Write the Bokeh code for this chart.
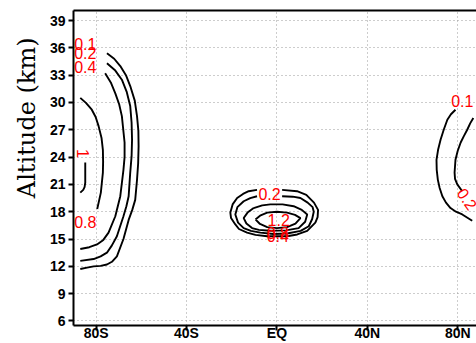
from bokeh.core.properties import value
from bokeh.embed import file_html
from bokeh.models import ColumnDataSource, FixedTicker, LinearAxis, Range1d, Title
from bokeh.plotting import figure
from bokeh.resources import INLINE

# Axis ticks
lat_ticks = [-80, -40, 0, 40, 80]
lat_tick_labels = ["80S", "40S", "EQ", "40N", "80N"]
alt_ticks = [6, 9, 12, 15, 18, 21, 24, 27, 30, 33, 36, 39]

# Southern high-latitude contours (latitude, altitude km)
sh_010_lat = [-75.2, -72.0, -69.3, -66.8, -64.9, -62.9, -61.9, -61.3, -61.2, -61.4, -61.9,
              -62.7, -64.0, -65.6, -67.9, -70.8, -73.0, -75.2, -78.0, -81.1, -84.0, -87.0]
sh_010_alt = [35.4, 34.8, 34.0, 33.0, 31.8, 30.2, 28.5, 26.9, 25.2, 23.3, 21.5,
              19.3, 18.2, 17.1, 15.0, 13.1, 12.5, 12.2, 12.05, 12.0, 11.85, 11.7]
sh_020_lat = [-75.2, -71.5, -68.6, -66.5, -64.9, -64.3, -64.1, -64.3, -64.9, -65.6, -66.6,
              -67.9, -70.8, -73.0, -75.2, -78.0, -81.1, -87.0]
sh_020_alt = [34.3, 33.5, 32.5, 31.2, 29.6, 27.8, 25.9, 24.1, 22.3, 19.7, 18.6,
              17.5, 15.3, 14.3, 13.5, 13.1, 12.8, 12.6]
sh_040_lat = [-76.0, -73.5, -71.5, -69.8, -68.6, -67.4, -67.4, -67.9, -69.3, -71.5, -74.5,
              -76.8, -79.6, -83.0, -87.0]
sh_040_alt = [33.2, 32.2, 31.0, 29.8, 28.5, 25.6, 24.0, 22.6, 19.7, 17.5, 15.7,
              14.9, 14.4, 14.1, 13.9]
sh_080_lat = [-87.0, -84.5, -81.9, -80.2, -78.9, -77.6, -77.0, -76.9, -77.0, -77.9, -79.5]
sh_080_alt = [30.5, 29.95, 29.2, 28.4, 27.4, 26.1, 24.8, 23.5, 22.3, 20.1, 18.3]
sh_100_lat = [-84.8, -84.8, -85.1, -85.7, -87.0]
sh_100_alt = [23.4, 21.2, 20.7, 20.4, 20.1]

# Equatorial tropopause contours
eq_020_lat = [2.3, 8.9, 13.0, 16.4, 18.2, 18.0, 17.0, 13.4, 9.0, 4.5, -4.3, -9.5, -13.2,
              -16.8, -18.4, -20.3, -20.6, -19.6, -17.6, -15.0, -12.5, -8.8]
eq_020_alt = [20.4, 20.25, 19.85, 19.0, 18.2, 17.4, 16.8, 15.9, 15.5, 15.3, 15.3, 15.45, 15.7,
              16.1, 16.6, 17.3, 17.9, 18.8, 19.5, 19.95, 20.25, 20.4]
eq_040_lat = [2.3, 7.0, 10.4, 13.6, 15.8, 16.3, 15.6, 14.1, 10.5, 4.5, -1.5, -7.3, -11.5,
              -14.7, -17.2, -18.4, -17.5, -14.7, -11.8, -8.8]
eq_040_alt = [19.7, 19.65, 19.5, 19.0, 18.5, 18.0, 17.2, 16.4, 15.9, 15.6, 15.55, 15.7, 15.9,
              16.2, 16.8, 17.7, 18.5, 19.15, 19.5, 19.7]
eq_080_lat = [-10.3, -6.5, -2.9, 2.5, 7.4, 11.0, 13.4, 12.5, 9.6, 4.0, -2.9, -8.0, -11.0,
              -13.5, -14.7, -13.0, -10.3]
eq_080_alt = [18.4, 18.7, 18.8, 18.8, 18.6, 18.2, 17.7, 16.9, 16.2, 15.95, 15.9, 16.0, 16.2,
              16.7, 17.3, 17.9, 18.4]
eq_120_lat = [-9.5, -7.2, -4.3, 0.0, 4.5, 8.0, 10.4, 8.2, 4.5, 0.0, -4.3, -7.5, -9.5]
eq_120_alt = [17.15, 17.6, 17.9, 18.0, 17.9, 17.65, 17.3, 16.7, 16.3, 16.2, 16.3, 16.65, 17.15]

# Northern high-latitude contours
nh_010_lat = [79.0, 77.0, 75.4, 73.8, 72.4, 71.3, 70.6, 70.7, 71.2, 72.0, 73.2, 74.8, 76.8,
              79.2, 82.0, 86.4]
nh_010_alt = [29.2, 28.7, 28.1, 27.0, 25.9, 24.8, 23.7, 22.6, 21.5, 20.6, 19.7, 19.0, 18.4,
              18.0, 17.7, 17.0]
nh_020_lat = [86.9, 85.5, 84.2, 82.7, 81.3, 80.0, 79.0, 78.6, 78.8, 79.8, 82.0]
nh_020_alt = [28.3, 27.7, 27.0, 26.3, 25.6, 24.7, 23.7, 22.3, 21.6, 21.0, 20.25]

# Contour labels
label_text = ["0.1", "0.2", "0.4", "1", "0.8", "0.2", "1.2", "0.8", "0.4", "0.1", "0.2"]
label_lat = [-84.8, -84.8, -84.8, -85.6, -84.8, -3.25, 0.8, 0.4, 0.4, 82.0, 84.2]
label_alt = [36.4, 35.4, 33.85, 24.4, 16.9, 19.97, 17.04, 15.65, 15.35, 30.2, 19.4]
label_angle = [0, 0, 0, -90, 0, 0, 0, 0, 0, 0, -55]

contour_lats = [sh_010_lat, sh_020_lat, sh_040_lat, sh_080_lat, sh_100_lat,
                eq_020_lat, eq_040_lat, eq_080_lat, eq_120_lat,
                nh_010_lat, nh_020_lat]
contour_alts = [sh_010_alt, sh_020_alt, sh_040_alt, sh_080_alt, sh_100_alt,
                eq_020_alt, eq_040_alt, eq_080_alt, eq_120_alt,
                nh_010_alt, nh_020_alt]

p = figure(width=476, height=343,
           x_range=Range1d(-90, 88.3), y_range=Range1d(5.5, 40.1),
           output_backend="svg", toolbar_location=None,
           min_border_left=73, min_border_right=0, min_border_top=10, min_border_bottom=15)
p.outline_line_color = None
p.background_fill_color = "white"

tick_font = "Liberation Sans"
for ax in (p.xaxis[0], p.yaxis[0]):
    ax.axis_line_width = 2
    ax.axis_line_color = "black"
    ax.major_tick_line_width = 2
    ax.major_tick_in = 0
    ax.major_tick_out = 5
    ax.minor_tick_line_color = None
    ax.major_label_text_font = tick_font
    ax.major_label_text_font_style = "bold"
    ax.major_label_text_font_size = "14px"
    ax.major_label_text_color = "black"

p.xaxis.ticker = FixedTicker(ticks=lat_ticks)
p.xaxis.major_label_overrides = {t: s for t, s in zip(lat_ticks, lat_tick_labels)}
p.xaxis.major_label_standoff = -6
p.yaxis.ticker = FixedTicker(ticks=alt_ticks)
p.yaxis.major_label_standoff = 3

top = LinearAxis(ticker=FixedTicker(ticks=[]), axis_line_width=2,
                 major_tick_in=0, major_tick_out=0, minor_tick_in=0, minor_tick_out=0,
                 major_label_text_font_size="0px", major_label_standoff=0)
p.add_layout(top, "above")

# Vertical axis title, placed in the left border
ytitle = Title(text="Altitude (km)", align="right", vertical_align="top", offset=27, standoff=8,
               text_font="DejaVu Serif", text_font_size="24px", text_font_style="normal",
               text_color="black")
p.add_layout(ytitle, "left")

p.xgrid.ticker = FixedTicker(ticks=lat_ticks)
p.ygrid.ticker = FixedTicker(ticks=alt_ticks)
for g in (p.xgrid[0], p.ygrid[0]):
    g.grid_line_color = "#9a9a9a"
    g.grid_line_dash = "1 3"
    g.grid_line_width = 1

p.multi_line(xs=contour_lats, ys=contour_alts, line_color="black", line_width=1.9)

labels = ColumnDataSource(dict(x=label_lat, y=label_alt, text=label_text, angle=label_angle))
p.text(x="x", y="y", text="text", angle="angle", angle_units="deg", source=labels,
       text_color="#ff0000", text_font=value("Liberation Sans"), text_font_size="16px",
       text_align="center", text_baseline="middle")

open("out.html", "w").write(file_html(p, INLINE))
